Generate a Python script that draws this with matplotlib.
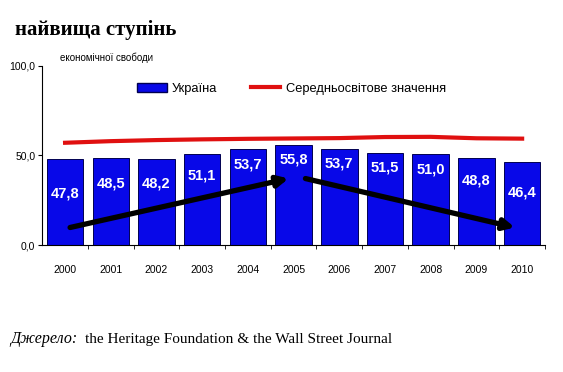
import matplotlib.pyplot as plt
from matplotlib.lines import Line2D
from matplotlib.patches import Patch

years = ['2000', '2001', '2002', '2003', '2004', '2005', '2006', '2007', '2008', '2009', '2010']
ukraine = [47.8, 48.5, 48.2, 51.1, 53.7, 55.8, 53.7, 51.5, 51.0, 48.8, 46.4]
world = [57.1, 58.0, 58.6, 59.0, 59.3, 59.5, 59.7, 60.3, 60.4, 59.6, 59.4]
yticks = [0, 50, 100]

plt.rcParams['font.family'] = ['Liberation Sans', 'DejaVu Sans']

fig = plt.figure(figsize=(5.63, 3.72), dpi=100)
ax = fig.add_axes([0.075, 0.341, 0.893, 0.482])

x = list(range(len(years)))
ax.bar(x, ukraine, width=0.8, color='#0808e8', edgecolor='#000050', linewidth=0.7, zorder=2)
ax.plot(x, world, color='#e01010', linewidth=3, zorder=3)

# підписи значень всередині стовпців
label_drop = [19, 14, 14, 12, 9, 8, 8, 8, 9, 13, 17]
for xi, v, d in zip(x, ukraine, label_drop):
    ax.text(xi, v - d, f'{v:.1f}'.replace('.', ','), ha='center', va='center',
            color='white', fontsize=10.5, fontweight='bold', zorder=4)

# стрілки тренду
ax.annotate('', xy=(4.95, 37.5), xytext=(0.05, 9.5),
            arrowprops=dict(arrowstyle='-|>', color='black', lw=3.8, mutation_scale=16), zorder=5)
ax.annotate('', xy=(9.9, 9.5), xytext=(5.2, 37.5),
            arrowprops=dict(arrowstyle='-|>', color='black', lw=3.8, mutation_scale=16), zorder=5)

ax.set_xlim(-0.5, len(years) - 0.5)
ax.set_ylim(0, 100)
ax.set_yticks(yticks)
ax.set_yticklabels([f'{t:.1f}'.replace('.', ',') for t in yticks], fontsize=7.5)
ax.set_xticks(x)
ax.set_xticklabels(years, fontsize=7.5)
ax.set_xticks([i + 0.5 for i in x], minor=True)
ax.tick_params(axis='x', which='major', length=0, pad=14)
ax.tick_params(axis='x', which='minor', length=3, direction='out')
ax.tick_params(axis='y', length=3, direction='out', pad=2)
ax.spines['top'].set_visible(False)
ax.spines['right'].set_visible(False)
ax.spines['left'].set_linewidth(0.8)
ax.spines['bottom'].set_linewidth(0.8)

handles = [Patch(facecolor='#0808e8', edgecolor='#000050', label='Україна'),
           Line2D([0], [0], color='#e01010', lw=3, label='Середньосвітове значення')]
ax.legend(handles=handles, ncol=2, frameon=False, fontsize=9.3, loc='upper left',
          bbox_to_anchor=(0.165, 0.97), handlelength=2.3, handletextpad=0.4,
          columnspacing=2.6)

fig.text(0.026, 0.905, 'найвища ступінь', fontsize=15, fontweight='bold',
         family='Liberation Serif', ha='left', va='baseline')
fig.text(0.107, 0.835, 'економічної свободи', fontsize=7, ha='left', va='baseline')
fig.text(0.018, 0.078, 'Джерело:', fontsize=11.5, style='italic', family='Liberation Serif',
         ha='left', va='baseline')
fig.text(0.151, 0.078, 'the Heritage Foundation & the Wall Street Journal', fontsize=11,
         family='Liberation Serif', ha='left', va='baseline')

fig.savefig('out.png', dpi=100)
